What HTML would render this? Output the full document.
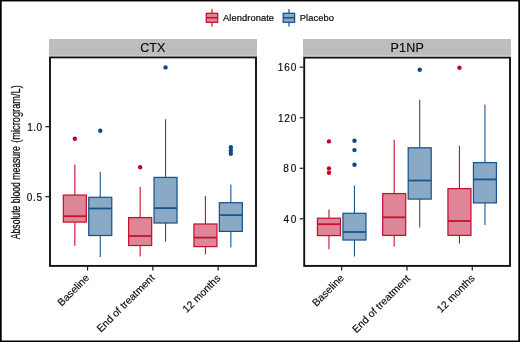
<!DOCTYPE html>
<html><head><meta charset="utf-8"><style>
html,body{margin:0;padding:0;background:#fff;}
body{width:520px;height:342px;overflow:hidden;font-family:"Liberation Sans",sans-serif;}
svg{display:block;will-change:transform;filter:blur(0.3px);}
</style></head><body>
<svg width="520" height="342" viewBox="0 0 520 342" font-family="'Liberation Sans', sans-serif">
<rect x="0" y="0" width="520" height="342" fill="#fff"/>
<!-- legend -->
<line x1="212" y1="9" x2="212" y2="26.5" stroke="#c8102e" stroke-width="1.2"/>
<rect x="206.3" y="13.3" width="11.4" height="9.0" fill="#de8697" stroke="#c8102e" stroke-width="1.3"/>
<line x1="206.3" y1="17.75" x2="217.7" y2="17.75" stroke="#c8102e" stroke-width="1.6"/>
<text x="223" y="20.8" font-size="9.3" fill="#0a0a0a" stroke="#0a0a0a" stroke-width="0.2" textLength="51" lengthAdjust="spacing">Alendronate</text>
<line x1="289" y1="9" x2="289" y2="26.5" stroke="#1a548f" stroke-width="1.2"/>
<rect x="283.2" y="13.3" width="11.4" height="9.0" fill="#89a9c4" stroke="#1a548f" stroke-width="1.3"/>
<line x1="283.2" y1="17.75" x2="294.6" y2="17.75" stroke="#1a548f" stroke-width="1.6"/>
<text x="299.8" y="20.8" font-size="9.3" fill="#0a0a0a" stroke="#0a0a0a" stroke-width="0.2" textLength="34" lengthAdjust="spacing">Placebo</text>
<!-- strips -->
<rect x="49" y="39" width="208" height="16.8" fill="#bdbcc1"/>
<rect x="303" y="39" width="208" height="16.8" fill="#bdbcc1"/>
<text x="152.8" y="51.9" text-anchor="middle" font-size="12.5" fill="#0a0a0a" stroke="#0a0a0a" stroke-width="0.15">CTX</text>
<text x="407.2" y="51.9" text-anchor="middle" font-size="12.5" fill="#0a0a0a" stroke="#0a0a0a" stroke-width="0.15" textLength="33.4" lengthAdjust="spacing">P1NP</text>
<!-- panels -->
<line x1="74.85" y1="164.4" x2="74.85" y2="195.1" stroke="#c8102e" stroke-width="1.1"/>
<line x1="74.85" y1="222.1" x2="74.85" y2="245.7" stroke="#c8102e" stroke-width="1.1"/>
<rect x="63.349999999999994" y="195.1" width="23.0" height="27.0" fill="#de8697" stroke="#c8102e" stroke-width="1.25"/>
<line x1="63.349999999999994" y1="216.2" x2="86.35" y2="216.2" stroke="#c8102e" stroke-width="1.8"/>
<circle cx="74.85" cy="138.8" r="2.2" fill="#c60524"/>
<line x1="100.25" y1="171.7" x2="100.25" y2="197.3" stroke="#1a548f" stroke-width="1.1"/>
<line x1="100.25" y1="235.5" x2="100.25" y2="257.0" stroke="#1a548f" stroke-width="1.1"/>
<rect x="88.75" y="197.3" width="23.0" height="38.19999999999999" fill="#89a9c4" stroke="#1a548f" stroke-width="1.25"/>
<line x1="88.75" y1="208.5" x2="111.75" y2="208.5" stroke="#1a548f" stroke-width="1.8"/>
<circle cx="100.25" cy="130.8" r="2.2" fill="#0e4a88"/>
<line x1="140.15" y1="186.9" x2="140.15" y2="217.6" stroke="#c8102e" stroke-width="1.1"/>
<line x1="140.15" y1="245.5" x2="140.15" y2="256.6" stroke="#c8102e" stroke-width="1.1"/>
<rect x="128.65" y="217.6" width="23.0" height="27.900000000000006" fill="#de8697" stroke="#c8102e" stroke-width="1.25"/>
<line x1="128.65" y1="236.0" x2="151.65" y2="236.0" stroke="#c8102e" stroke-width="1.8"/>
<circle cx="140.15" cy="167.2" r="2.2" fill="#c60524"/>
<line x1="165.55" y1="119.2" x2="165.55" y2="177.4" stroke="#1a548f" stroke-width="1.1"/>
<line x1="165.55" y1="223.0" x2="165.55" y2="241.4" stroke="#1a548f" stroke-width="1.1"/>
<rect x="154.05" y="177.4" width="23.0" height="45.599999999999994" fill="#89a9c4" stroke="#1a548f" stroke-width="1.25"/>
<line x1="154.05" y1="208.1" x2="177.05" y2="208.1" stroke="#1a548f" stroke-width="1.8"/>
<circle cx="165.55" cy="67.4" r="2.2" fill="#0e4a88"/>
<line x1="205.45" y1="196.1" x2="205.45" y2="224.0" stroke="#c8102e" stroke-width="1.1"/>
<line x1="205.45" y1="246.6" x2="205.45" y2="254.4" stroke="#c8102e" stroke-width="1.1"/>
<rect x="193.95" y="224.0" width="23.0" height="22.599999999999994" fill="#de8697" stroke="#c8102e" stroke-width="1.25"/>
<line x1="193.95" y1="237.6" x2="216.95" y2="237.6" stroke="#c8102e" stroke-width="1.8"/>
<line x1="230.85" y1="184.4" x2="230.85" y2="202.7" stroke="#1a548f" stroke-width="1.1"/>
<line x1="230.85" y1="231.4" x2="230.85" y2="247.5" stroke="#1a548f" stroke-width="1.1"/>
<rect x="219.35" y="202.7" width="23.0" height="28.700000000000017" fill="#89a9c4" stroke="#1a548f" stroke-width="1.25"/>
<line x1="219.35" y1="215.1" x2="242.35" y2="215.1" stroke="#1a548f" stroke-width="1.8"/>
<circle cx="230.85" cy="147.2" r="2.2" fill="#0e4a88"/>
<circle cx="230.85" cy="150.4" r="2.2" fill="#0e4a88"/>
<circle cx="230.85" cy="153.7" r="2.2" fill="#0e4a88"/>
<line x1="328.95" y1="209.4" x2="328.95" y2="218.2" stroke="#c8102e" stroke-width="1.1"/>
<line x1="328.95" y1="235.6" x2="328.95" y2="249.2" stroke="#c8102e" stroke-width="1.1"/>
<rect x="317.45" y="218.2" width="23.0" height="17.400000000000006" fill="#de8697" stroke="#c8102e" stroke-width="1.25"/>
<line x1="317.45" y1="224.2" x2="340.45" y2="224.2" stroke="#c8102e" stroke-width="1.8"/>
<circle cx="328.95" cy="141.4" r="2.2" fill="#c60524"/>
<circle cx="328.95" cy="168.4" r="2.2" fill="#c60524"/>
<circle cx="328.95" cy="172.8" r="2.2" fill="#c60524"/>
<line x1="354.45" y1="185.5" x2="354.45" y2="213.3" stroke="#1a548f" stroke-width="1.1"/>
<line x1="354.45" y1="240.0" x2="354.45" y2="256.6" stroke="#1a548f" stroke-width="1.1"/>
<rect x="342.95" y="213.3" width="23.0" height="26.69999999999999" fill="#89a9c4" stroke="#1a548f" stroke-width="1.25"/>
<line x1="342.95" y1="232.0" x2="365.95" y2="232.0" stroke="#1a548f" stroke-width="1.8"/>
<circle cx="354.45" cy="140.7" r="2.2" fill="#0e4a88"/>
<circle cx="354.45" cy="150.1" r="2.2" fill="#0e4a88"/>
<circle cx="354.45" cy="164.7" r="2.2" fill="#0e4a88"/>
<line x1="394.2" y1="139.7" x2="394.2" y2="193.6" stroke="#c8102e" stroke-width="1.1"/>
<line x1="394.2" y1="235.4" x2="394.2" y2="246.5" stroke="#c8102e" stroke-width="1.1"/>
<rect x="382.7" y="193.6" width="23.0" height="41.80000000000001" fill="#de8697" stroke="#c8102e" stroke-width="1.25"/>
<line x1="382.7" y1="217.3" x2="405.7" y2="217.3" stroke="#c8102e" stroke-width="1.8"/>
<line x1="419.7" y1="99.8" x2="419.7" y2="147.8" stroke="#1a548f" stroke-width="1.1"/>
<line x1="419.7" y1="199.1" x2="419.7" y2="227.5" stroke="#1a548f" stroke-width="1.1"/>
<rect x="408.2" y="147.8" width="23.0" height="51.29999999999998" fill="#89a9c4" stroke="#1a548f" stroke-width="1.25"/>
<line x1="408.2" y1="180.5" x2="431.2" y2="180.5" stroke="#1a548f" stroke-width="1.8"/>
<circle cx="419.7" cy="69.8" r="2.2" fill="#0e4a88"/>
<line x1="459.45" y1="145.8" x2="459.45" y2="188.6" stroke="#c8102e" stroke-width="1.1"/>
<line x1="459.45" y1="235.4" x2="459.45" y2="243.6" stroke="#c8102e" stroke-width="1.1"/>
<rect x="447.95" y="188.6" width="23.0" height="46.80000000000001" fill="#de8697" stroke="#c8102e" stroke-width="1.25"/>
<line x1="447.95" y1="221.0" x2="470.95" y2="221.0" stroke="#c8102e" stroke-width="1.8"/>
<circle cx="459.45" cy="67.7" r="2.2" fill="#c60524"/>
<line x1="484.95" y1="104.4" x2="484.95" y2="162.6" stroke="#1a548f" stroke-width="1.1"/>
<line x1="484.95" y1="202.9" x2="484.95" y2="225.1" stroke="#1a548f" stroke-width="1.1"/>
<rect x="473.45" y="162.6" width="23.0" height="40.30000000000001" fill="#89a9c4" stroke="#1a548f" stroke-width="1.25"/>
<line x1="473.45" y1="179.4" x2="496.45" y2="179.4" stroke="#1a548f" stroke-width="1.8"/>
<rect x="50" y="57.4" width="206" height="208.5" fill="none" stroke="#111" stroke-width="1.9"/>
<rect x="304.2" y="57.6" width="205.8" height="208.3" fill="none" stroke="#111" stroke-width="1.9"/>
<line x1="45.4" y1="126.7" x2="49" y2="126.7" stroke="#1a1a1a" stroke-width="1.2"/><text x="27.300000000000004" y="130.75" font-size="10" fill="#0a0a0a" stroke="#0a0a0a" stroke-width="0.15" textLength="14.8" lengthAdjust="spacing">1.0</text><line x1="45.4" y1="196.7" x2="49" y2="196.7" stroke="#1a1a1a" stroke-width="1.2"/><text x="26.700000000000003" y="200.75" font-size="10" fill="#0a0a0a" stroke="#0a0a0a" stroke-width="0.15" textLength="15.4" lengthAdjust="spacing">0.5</text><line x1="299.7" y1="218.8" x2="303.3" y2="218.8" stroke="#1a1a1a" stroke-width="1.2"/><text x="283.4" y="222.85000000000002" font-size="10" fill="#0a0a0a" stroke="#0a0a0a" stroke-width="0.15" textLength="13.0" lengthAdjust="spacing">40</text><line x1="299.7" y1="168.27" x2="303.3" y2="168.27" stroke="#1a1a1a" stroke-width="1.2"/><text x="283.2" y="172.32000000000002" font-size="10" fill="#0a0a0a" stroke="#0a0a0a" stroke-width="0.15" textLength="13.200000000000001" lengthAdjust="spacing">80</text><line x1="299.7" y1="117.74" x2="303.3" y2="117.74" stroke="#1a1a1a" stroke-width="1.2"/><text x="277.9" y="121.78999999999999" font-size="10" fill="#0a0a0a" stroke="#0a0a0a" stroke-width="0.15" textLength="18.5" lengthAdjust="spacing">120</text><line x1="299.7" y1="67.2" x2="303.3" y2="67.2" stroke="#1a1a1a" stroke-width="1.2"/><text x="277.7" y="71.25" font-size="10" fill="#0a0a0a" stroke="#0a0a0a" stroke-width="0.15" textLength="18.7" lengthAdjust="spacing">160</text>
<line x1="87.55" y1="266.5" x2="87.55" y2="270.6" stroke="#1a1a1a" stroke-width="1.2"/><text transform="translate(89.95,278.50) rotate(-45)" text-anchor="end" font-size="10.4" fill="#0a0a0a" stroke="#0a0a0a" stroke-width="0.15">Baseline</text><line x1="152.83" y1="266.5" x2="152.83" y2="270.6" stroke="#1a1a1a" stroke-width="1.2"/><text transform="translate(155.23,278.50) rotate(-45)" text-anchor="end" font-size="10.4" fill="#0a0a0a" stroke="#0a0a0a" stroke-width="0.15">End of treatment</text><line x1="218.11" y1="266.5" x2="218.11" y2="270.6" stroke="#1a1a1a" stroke-width="1.2"/><text transform="translate(221.11,278.90) rotate(-45)" text-anchor="end" font-size="10.4" fill="#0a0a0a" stroke="#0a0a0a" stroke-width="0.15">12 months</text><line x1="341.7" y1="266.5" x2="341.7" y2="270.6" stroke="#1a1a1a" stroke-width="1.2"/><text transform="translate(344.60,278.70) rotate(-45)" text-anchor="end" font-size="10.4" fill="#0a0a0a" stroke="#0a0a0a" stroke-width="0.15">Baseline</text><line x1="406.98" y1="266.5" x2="406.98" y2="270.6" stroke="#1a1a1a" stroke-width="1.2"/><text transform="translate(410.78,279.10) rotate(-45)" text-anchor="end" font-size="10.4" fill="#0a0a0a" stroke="#0a0a0a" stroke-width="0.15">End of treatment</text><line x1="472.26" y1="266.5" x2="472.26" y2="270.6" stroke="#1a1a1a" stroke-width="1.2"/><text transform="translate(475.36,278.90) rotate(-45)" text-anchor="end" font-size="10.4" fill="#0a0a0a" stroke="#0a0a0a" stroke-width="0.15">12 months</text>
<text transform="translate(19.9,85.2) rotate(-90)" text-anchor="end" font-size="13.5" stroke="#0a0a0a" stroke-width="0.25" fill="#0a0a0a" textLength="57.6" lengthAdjust="spacingAndGlyphs">(microgram/L)</text>
<text transform="translate(19.9,239.2) rotate(-90)" font-size="13.5" stroke="#0a0a0a" stroke-width="0.25" fill="#0a0a0a" textLength="93" lengthAdjust="spacingAndGlyphs">Absolute blood measure</text>
<rect x="0" y="0" width="520" height="1.45" fill="#000"/>
<rect x="0" y="0" width="1.7" height="342" fill="#000"/>
<rect x="518.3" y="0" width="1.7" height="342" fill="#000"/>
<rect x="0" y="340.5" width="520" height="1.5" fill="#000"/>
</svg>
</body></html>
